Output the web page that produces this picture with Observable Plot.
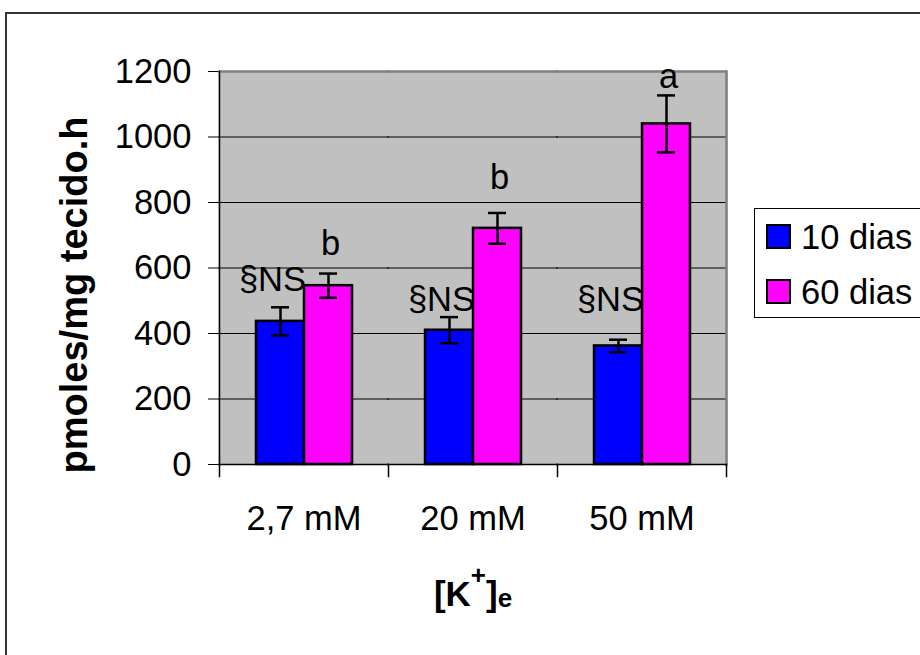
<!DOCTYPE html>
<html>
<head>
<meta charset="utf-8">
<script src="https://cdn.jsdelivr.net/npm/d3@7"></script>
<script src="https://cdn.jsdelivr.net/npm/@observablehq/plot@0.6"></script>
<style>
  html, body { margin: 0; padding: 0; background: #fff; }
  body { width: 920px; height: 655px; overflow: hidden; position: relative;
         font-family: "Liberation Sans", Arial, sans-serif; color: #000; }
  #chart { position: absolute; left: 0; top: 0; }
  #outer { position: absolute; left: 5px; top: 12px; width: 1200px; height: 1200px;
           border-left: 2px solid #333; border-top: 2px solid #333; }
  #ytitle { position: absolute; left: 74px; top: 295px; transform: translate(-50%, -50%) rotate(-90deg);
            font-weight: bold; font-size: 38px; line-height: 1; white-space: nowrap; }
  #xtitle { position: absolute; left: 473px; top: 576px; transform: translateX(-50%);
            font-weight: bold; font-size: 35px; line-height: 35px; white-space: nowrap; }
  #xtitle .sup { font-size: 26px; position: relative; top: -22px; line-height: 0; }
  #xtitle .sub { font-size: 26px; position: relative; top: 1px; line-height: 0; }
  #legend { position: absolute; left: 754px; top: 208px; width: 220px; height: 108px;
            border: 1.5px solid #000; background: #fff; }
  .lsw { position: absolute; width: 21px; height: 21px; border: 2.5px solid #000; }
  .ltx { position: absolute; font-size: 34.5px; line-height: 34.5px; white-space: nowrap; }
</style>
</head>
<body>
<div id="outer"></div>
<div id="chart"></div>
<div id="ytitle">pmoles/mg tecido.h</div>
<div id="xtitle">[K<span class="sup">+</span>]<span class="sub">e</span></div>
<div id="legend"></div>
<script>
const categories = ["2,7 mM", "20 mM", "50 mM"];
const series = ["10 dias", "60 dias"];
const colors = ["#0000ff", "#ff00ff"];
const values10 = [437, 410, 362];
const values60 = [546, 721, 1040];
const errors10 = [43, 40, 19];
const errors60 = [37, 47, 87];
const labels10 = ["§NS", "§NS", "§NS"];
const labels60 = ["b", "b", "a"];
const labelY10 = [563, 502, 502];
const labelY60 = [673, 875, 1183];
const yTicks = [0, 200, 400, 600, 800, 1000, 1200];
const yGrid = [200, 400, 600, 800, 1000];

const rows = [];
categories.forEach((c, i) => {
  rows.push({cat: c, series: series[0], value: values10[i], err: errors10[i], label: labels10[i], ly: labelY10[i]});
  rows.push({cat: c, series: series[1], value: values60[i], err: errors60[i], label: labels60[i], ly: labelY60[i]});
});
const rows10 = rows.filter(d => d.series === series[0]);
const rows60 = rows.filter(d => d.series === series[1]);
const firstCat = categories[0];
const lastCat = categories[categories.length - 1];

const W = 920, H = 655, mL = 218, mR = 193, mT = 71, mB = 191;
const innerH = H - mT - mB;
const tickLen = 12;

const plot = Plot.plot({
  width: W,
  height: H,
  marginLeft: mL,
  marginRight: mR,
  marginTop: mT,
  marginBottom: mB,
  style: {fontFamily: "'Liberation Sans', Arial, sans-serif", fontSize: "34.5px", background: "transparent", color: "#000", overflow: "visible"},
  fx: {domain: categories, padding: 0, axis: "bottom", tickSize: 0, tickPadding: 41, label: null},
  x: {domain: series, paddingInner: 0, paddingOuter: 0.757, axis: null},
  y: {domain: [0, 1200], ticks: yTicks, tickFormat: d => String(d), tickSize: 11, tickPadding: 17, label: null, axis: "left"},
  color: {domain: series, range: colors},
  marks: [
    Plot.frame({fill: "#c0c0c0", stroke: "none", insetLeft: -1, insetRight: -1}),
    Plot.ruleY(yGrid, {stroke: "#000", strokeWidth: 1, insetLeft: -1, insetRight: -1}),
    Plot.ruleY([yTicks[yTicks.length - 1]], {stroke: "#808080", strokeWidth: 2.5, insetLeft: -1, insetRight: -1}),
    Plot.frame({anchor: "right", fx: () => lastCat, stroke: "#808080", strokeWidth: 2.5}),
    Plot.frame({anchor: "left", fx: () => firstCat, stroke: "#000", strokeWidth: 1.5}),
    // category separator tick marks below the axis
    Plot.frame({anchor: "left", insetTop: innerH, insetBottom: -tickLen, stroke: "#000", strokeWidth: 1.5}),
    Plot.frame({anchor: "right", fx: () => lastCat, insetTop: innerH, insetBottom: -tickLen, stroke: "#000", strokeWidth: 1.5}),
    Plot.ruleY([0], {stroke: "#000", strokeWidth: 1.5, insetLeft: -1, insetRight: -1}),
    Plot.barY(rows, {fx: "cat", x: "series", y: "value", fill: "series", stroke: "#000", strokeWidth: 2.5}),
    Plot.ruleX(rows, {fx: "cat", x: "series", y1: d => d.value - d.err, y2: d => d.value + d.err, stroke: "#000", strokeWidth: 2.5}),
    Plot.tickY(rows, {fx: "cat", x: "series", y: d => d.value + d.err, insetLeft: 15, insetRight: 15, stroke: "#000", strokeWidth: 2.5}),
    Plot.tickY(rows, {fx: "cat", x: "series", y: d => d.value - d.err, insetLeft: 15, insetRight: 15, stroke: "#000", strokeWidth: 2.5}),
    Plot.text(rows10, {fx: "cat", x: "series", y: "ly", text: "label", dx: -8, fontSize: 34.5, fill: "#000"}),
    Plot.text(rows60, {fx: "cat", x: "series", y: "ly", text: "label", dx: 2, fontSize: 34.5, fill: "#000"})
  ]
});
document.getElementById("chart").appendChild(plot);

const legend = document.getElementById("legend");
series.forEach((s, i) => {
  const sw = document.createElement("div");
  sw.className = "lsw";
  sw.style.left = (765 - 754) + "px";
  sw.style.top = (223 - 208 + i * 55) + "px";
  sw.style.background = colors[i];
  legend.appendChild(sw);
  const tx = document.createElement("div");
  tx.className = "ltx";
  tx.style.left = (800 - 754) + "px";
  tx.style.top = (218.5 - 208 + i * 55) + "px";
  tx.textContent = s;
  legend.appendChild(tx);
});
</script>
</body>
</html>
